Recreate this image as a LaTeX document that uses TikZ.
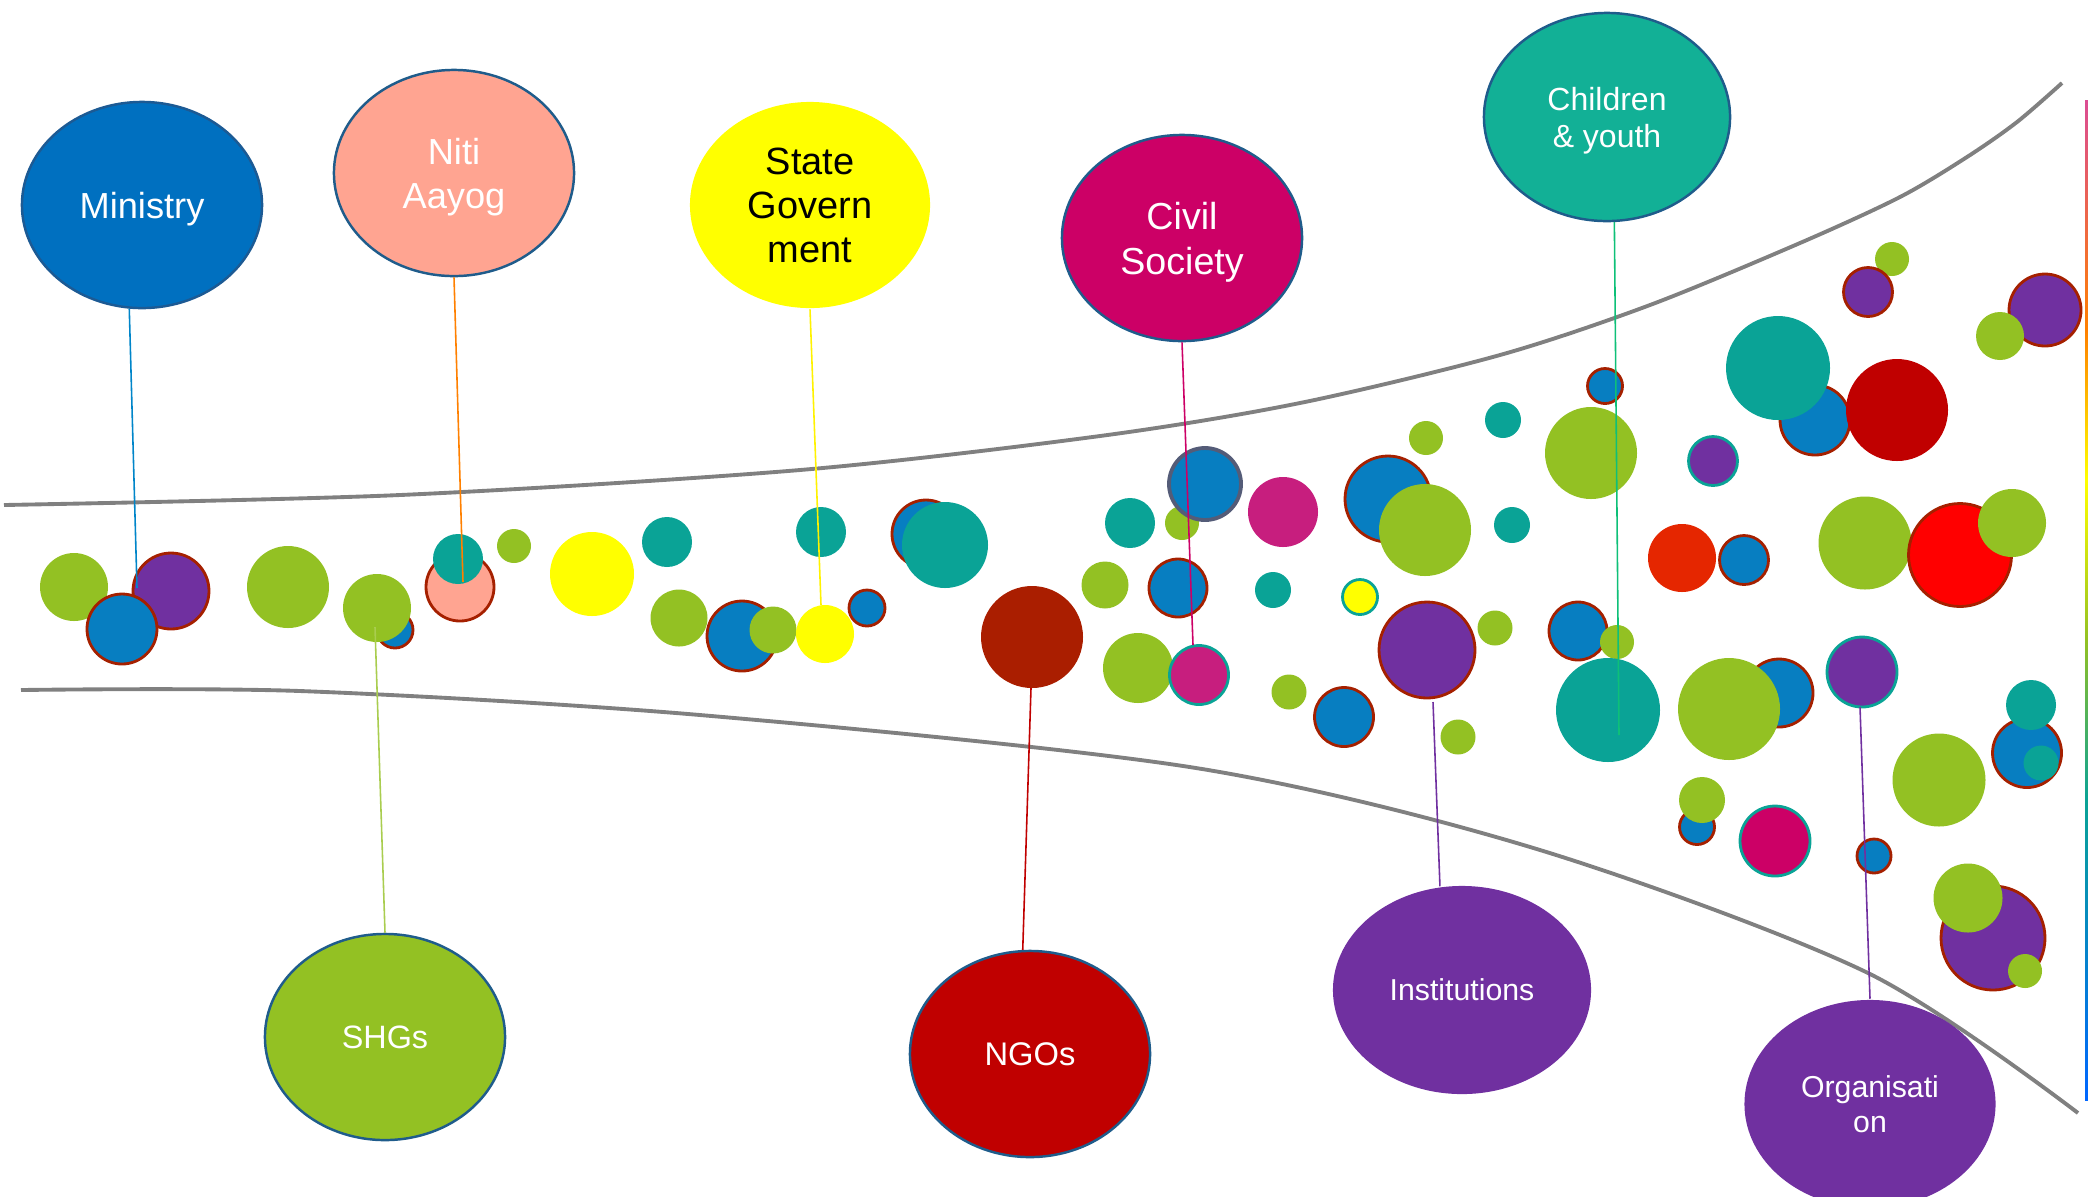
\documentclass[tikz,border=0pt]{standalone}
\usepackage{fontspec}
\setmainfont{Liberation Sans}
\usetikzlibrary{shapes.geometric}
\usetikzlibrary{positioning}
\definecolor{ballgreen}{HTML}{93C123}
\definecolor{ballblue}{HTML}{077EC1}
\definecolor{ballpurple}{HTML}{7030A0}
\definecolor{ballteal}{HTML}{0AA396}
\definecolor{ballyellow}{HTML}{FFFF00}
\definecolor{ballsalmon}{HTML}{FFA491}
\definecolor{rustred}{HTML}{AA1E00}
\definecolor{deepred}{HTML}{C00000}
\definecolor{pinkball}{HTML}{C71E7E}
\definecolor{magentaball}{HTML}{CC0066}
\definecolor{flame}{HTML}{E52600}
\definecolor{brightred}{HTML}{FF0000}
\definecolor{rimred}{HTML}{A52000}
\definecolor{rimblue}{HTML}{1F5C8B}
\definecolor{rimslate}{HTML}{545C78}
\definecolor{ministryblue}{HTML}{0070C0}
\definecolor{ministryrim}{HTML}{1C5A94}
\definecolor{youthteal}{HTML}{12B096}
\definecolor{funnelgray}{HTML}{808080}
\tikzstyle{funnel}=[line width=1.1pt,color=funnelgray]
\tikzstyle{tether}=[line width=0.45pt]
\tikzstyle{redrim}=[draw=rimred,line width=0.8pt]
\tikzstyle{tealrim}=[draw=ballteal,line width=0.8pt]

\begin{document}
\begin{tikzpicture}[x=0.01cm,y=-0.01cm]
    \useasboundingbox (0,0) rectangle (2088,1196);
    % the actors, all of one size
    \tikzstyle{actor}=[ellipse,inner sep=0pt,align=center,text=white,text depth=0pt,draw=rimblue,line width=0.7pt,minimum width=2.4cm,minimum height=2.06cm]

    % funnel walls
    \draw[funnel] plot[smooth] coordinates {(4,505) (400,495) (800,470) (1100,436) (1300,403) (1500,355) (1650,305) (1800,243) (1900,197) (1967,157) (2017,122) (2062,83)};
    \draw[funnel] plot[smooth] coordinates {(21,690) (300,691) (700,715) (1196,768) (1540,850) (1868,973) (2078,1113)};

    % balls, left part
    \fill[ballgreen] (74,587) circle (34);
    \filldraw[fill=ballpurple,redrim] (171,591) circle (38);
    \filldraw[fill=ballblue,redrim] (122,629) circle (35);
    \fill[ballgreen] (288,587) circle (41);
    \filldraw[fill=ballblue,redrim] (395,630) circle (18);
    \fill[ballgreen] (377,608) circle (34);
    \filldraw[fill=ballsalmon,redrim] (460,587) circle (34);
    \fill[ballteal] (458,559) circle (25);
    \fill[ballgreen] (514,546) circle (17);
    \fill[ballyellow] (592,574) circle (42);
    \fill[ballteal] (667,542) circle (25);
    \fill[ballgreen] (679,618) circle (28.5);
    \fill[ballteal] (821,532) circle (25);
    \filldraw[fill=ballblue,redrim] (742,636) circle (35);
    \fill[ballgreen] (773,630) circle (23.5);
    \fill[ballyellow] (825,634) circle (29);
    \filldraw[fill=ballblue,redrim] (867,608) circle (18);
    \filldraw[fill=ballblue,redrim] (926,534) circle (34);
    \fill[ballteal] (945,545) circle (43);
    \fill[rustred] (1032,637) circle (51);

    % balls, middle part
    \fill[ballteal] (1130,523) circle (25);
    \fill[ballgreen] (1182,523) circle (17);
    \filldraw[fill=ballblue,draw=rimslate,line width=1.1pt] (1205,484) circle (36);
    \fill[ballgreen] (1105,585) circle (23.5);
    \filldraw[fill=ballblue,redrim] (1178,588) circle (29);
    \fill[ballgreen] (1138,668) circle (35);
    \filldraw[fill=pinkball,tealrim] (1199,675) circle (29.5);
    \fill[pinkball] (1283,512) circle (35);
    \fill[ballteal] (1273,590) circle (18);
    \filldraw[fill=ballyellow,tealrim] (1360,597) circle (17.5);
    \filldraw[fill=ballblue,redrim] (1388,499) circle (43);
    \fill[ballgreen] (1425,530) circle (46);
    \filldraw[fill=ballpurple,redrim] (1427,650) circle (48);
    \fill[ballgreen] (1289,692) circle (17.5);
    \filldraw[fill=ballblue,redrim] (1344,717) circle (29.5);
    \fill[ballgreen] (1426,438) circle (17);
    \fill[ballteal] (1503,420) circle (18);
    \filldraw[fill=ballblue,redrim] (1605,386) circle (17.5);
    \fill[ballgreen] (1591,453) circle (46);
    \fill[ballteal] (1512,525) circle (18);
    \fill[ballgreen] (1495,628) circle (17.5);
    \fill[ballgreen] (1458,737) circle (17.5);
    \filldraw[fill=ballblue,redrim] (1578,631) circle (29);
    \fill[ballgreen] (1617,642) circle (17);
    \fill[ballteal] (1608,710) circle (52);

    % balls, right part
    \filldraw[fill=ballpurple,tealrim] (1713,461) circle (24.5);
    \filldraw[fill=ballblue,redrim] (1815,420) circle (35);
    \fill[ballteal] (1778,368) circle (52);
    \fill[deepred] (1897,410) circle (51);
    \fill[ballgreen] (1892,259) circle (17);
    \filldraw[fill=ballpurple,redrim] (1868,292) circle (24.5);
    \filldraw[fill=ballpurple,redrim] (2045,310) circle (36);
    \fill[ballgreen] (2000,336) circle (24);
    \fill[flame] (1682,558) circle (34);
    \filldraw[fill=ballblue,redrim] (1744,560) circle (24.5);
    \fill[ballgreen] (1865,543) circle (46.5);
    \filldraw[fill=brightred,redrim] (1960,555) circle (51.5);
    \fill[ballgreen] (2012,523) circle (34);
    \filldraw[fill=ballblue,redrim] (1779,693) circle (34);
    \fill[ballgreen] (1729,709) circle (51);
    \filldraw[fill=ballpurple,tealrim] (1862,672) circle (35);
    \filldraw[fill=ballblue,redrim] (2027,753) circle (34.5);
    \fill[ballteal] (2031,705) circle (25);
    \fill[ballteal] (2041,763) circle (17.5);
    \fill[ballgreen] (1939,780) circle (46.5);
    \filldraw[fill=ballblue,redrim] (1697,827) circle (17.5);
    \fill[ballgreen] (1702,800) circle (23);
    \filldraw[fill=magentaball,tealrim] (1775,841) circle (35);
    \filldraw[fill=ballblue,redrim] (1874,856) circle (17);
    \filldraw[fill=ballpurple,redrim] (1993,938) circle (52);
    \fill[ballgreen] (1968,898) circle (34.5);
    \fill[ballgreen] (2025,971) circle (17);

    % actors
    \node[actor,fill=ministryblue,draw=ministryrim,font=\fontsize{10.3}{12.5}\selectfont] (ministry) at (142,205) {Ministry};
    \node[actor,fill=ballsalmon,font=\fontsize{10.3}{12.5}\selectfont] (niti) at (454,173) {Niti\\Aayog};
    \node[actor,fill=ballyellow,draw=none,text=black,font=\fontsize{10.8}{12.5}\selectfont] (stategov) at (810,205) {State\\Govern\\ment};
    \node[actor,fill=magentaball,font=\fontsize{10.7}{12.8}\selectfont] (civil) at (1182,238) {Civil\\Society};
    \node[actor,fill=youthteal,minimum width=2.46cm,minimum height=2.08cm,font=\fontsize{9.1}{10.5}\selectfont] (youth) at (1607,117) {Children\\\& youth};
    \node[actor,fill=ballgreen,font=\fontsize{9.2}{11}\selectfont] (shgs) at (385,1037) {SHGs};
    \node[actor,fill=deepred,font=\fontsize{9.3}{11}\selectfont] (ngos) at (1030,1054) {NGOs};
    \node[actor,fill=ballpurple,draw=none,minimum width=2.58cm,minimum height=2.08cm,font=\fontsize{8.6}{9.7}\selectfont] (inst) at (1462,990) {Institutions};
    \node[actor,fill=ballpurple,draw=none,minimum width=2.51cm,minimum height=2.08cm,font=\fontsize{8.6}{9.7}\selectfont] (org) at (1870,1104) {Organisati\\on};

    % where the strings end
    \coordinate (ministrytip) at (137,588);
    \coordinate (nititip) at (463,582);
    \coordinate (statetip) at (821,605);
    \coordinate (civiltip) at (1193,645);
    \coordinate (youthtip) at (1619,735);
    \coordinate (shgstip) at (375,627);
    \coordinate (ngostip) at (1031,688);
    \coordinate (insttip) at (1433,702);
    \coordinate (orgtip) at (1860,707);

    \draw[tether,color=ministryblue!85!cyan] (ministry.-97) -- (ministrytip);
    \draw[tether,color=orange] (niti.south) -- (nititip);
    \draw[tether,color=ballyellow!90!orange] (stategov.south) -- (statetip);
    \draw[tether,color=magentaball] (civil.south) -- (civiltip);
    \draw[tether,color=youthteal!80!green] (youth.-86) -- (youthtip);
    \draw[tether,color=ballgreen!80!white] (shgs.north) -- (shgstip);
    \draw[tether,color=deepred] (ngos.94) -- (ngostip);
    \draw[tether,color=ballpurple] (inst.102) -- (insttip);
    \draw[tether,color=ballpurple] (org.north) -- (orgtip);

    % coloured bar at the right edge
    \shade[top color=magentaball!70!white,bottom color=orange] (2085,100) rectangle (2088,330);
    \shade[top color=orange,bottom color=ballyellow] (2085,330) rectangle (2088,480);
    \shade[top color=ballyellow,bottom color=ballgreen] (2085,480) rectangle (2088,640);
    \shade[top color=ballgreen,bottom color=ballteal] (2085,640) rectangle (2088,800);
    \shade[top color=ballteal,bottom color=blue!60!cyan] (2085,800) rectangle (2088,1100);
\end{tikzpicture}
\end{document}
